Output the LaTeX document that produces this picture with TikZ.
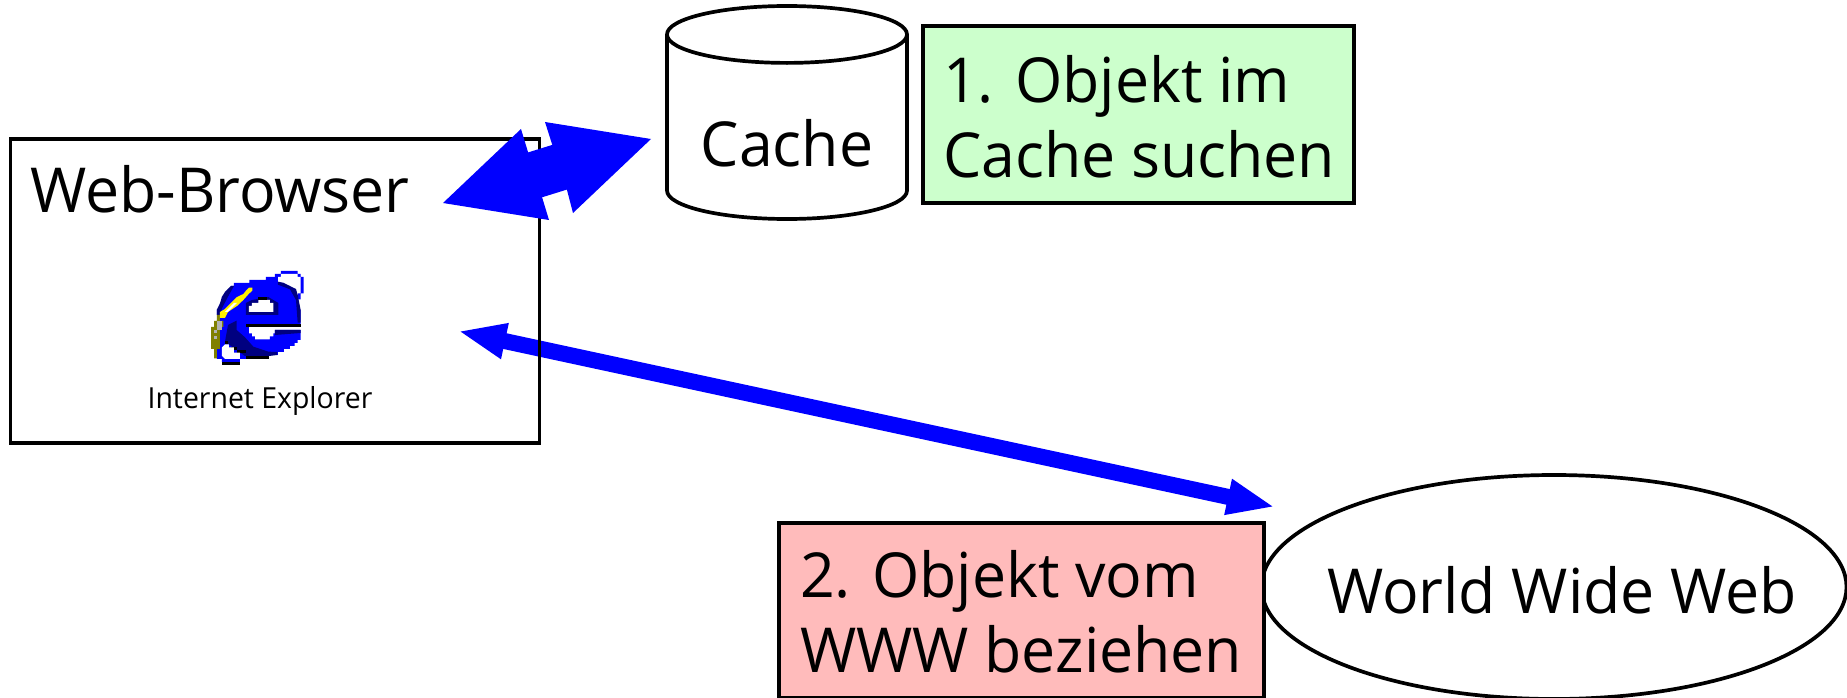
\documentclass[tikz,border=0pt]{standalone}
\usepackage{fontspec}
\setmainfont[FakeStretch=0.98]{Open Sans}
\usetikzlibrary{arrows.meta}
\usetikzlibrary{shapes.geometric}
\definecolor{notegreen}{HTML}{CCFFCC}
\definecolor{notered}{HTML}{FFBBBB}
\definecolor{ienavy}{HTML}{000080}
\definecolor{ieolive}{HTML}{808000}
\tikzset{
  outline/.style={draw=black,line width=3.7pt,inner sep=0pt,outer sep=0pt},
  caption/.style={font=\bigtext,align=left,inner sep=0pt},
  thinlink/.style={draw=blue,line width=16pt,
    {Triangle[length=48pt,width=33pt]}-{Triangle[length=48pt,width=33pt]}},
  fatlink/.style={draw=blue,line width=47pt},
  fathead/.style={fill=blue}
}
\newcommand{\bigtext}{\fontsize{62}{75}\selectfont}
\newcommand{\smalltext}{\fontsize{29}{30}\selectfont}
\begin{document}
\begin{tikzpicture}[x=1pt,y=-1pt]
  \useasboundingbox (0,0) rectangle (1847,698);

  \coordinate (browserport) at (458,331);
  \coordinate (wwwport) at (1275,507);
  \draw[thinlink] (browserport) -- (wwwport);

  \node[outline,minimum width=529pt,minimum height=304pt] (browser) at (275,291) {};
  \node[caption,anchor=base west] (browserlabel) at (30,212) {Web-Browser};
  \node[anchor=base,font=\smalltext,inner sep=0pt] (ielabel) at (260,408) {Internet Explorer};

  \begin{scope}[shift={(190,250)},x=0.3333pt,y=-0.3333pt]
    \fill[blue] (255,72) -- (273,72) -- (273,63) -- (323,63) -- (323,72) -- (332,72) -- (332,81) -- (341,81) -- (341,130) -- (332,130) -- (332,148) -- (318,148) -- (318,81) -- (255,81) -- cycle;
    \fill[white] (264,81) -- (273,81) -- (273,72) -- (323,72) -- (323,81) -- (332,81) -- (332,130) -- (323,130) -- (323,135) -- (264,135) -- cycle;
    \fill[blue] (150,99) -- (178,99) -- (178,90) -- (228,90) -- (228,81) -- (264,81) -- (264,99) -- (282,99) -- (282,108) -- (300,108) -- (300,117) -- (318,117) -- (318,135) -- (323,135) -- (323,180) -- (332,180) -- (332,222) -- (168,222) -- (168,231) -- (177,231) -- (177,250) -- (186,250) -- (186,259) -- (195,259) -- (195,268) -- (240,268) -- (240,259) -- (250,259) -- (250,250) -- (255,250) -- (255,240) -- (332,240) -- (332,270) -- (323,270) -- (323,279) -- (314,279) -- (314,288) -- (300,288) -- (300,297) -- (282,297) -- (282,306) -- (264,306) -- (264,315) -- (237,315) -- (237,318) -- (168,318) -- (168,327) -- (150,327) -- (150,336) -- (96,336) -- (96,327) -- (81,327) -- (81,280) -- (90,280) -- (90,195) -- (81,195) -- (81,178) -- (90,178) -- (90,160) -- (96,160) -- (96,140) -- (105,140) -- (105,126) -- (114,126) -- (114,117) -- (123,117) -- (123,108) -- (132,108) -- (132,99) -- cycle;
    \fill[ienavy] (114,225) -- (140,212) -- (140,240) -- (165,262) -- (190,290) -- (235,305) -- (262,306) -- (262,315) -- (237,318) -- (165,318) -- (140,300) -- (105,275) -- cycle;
    \fill[ienavy] (168,159) -- (186,150) -- (235,141) -- (250,150) -- (265,159) -- (265,195) -- (168,195) -- cycle;
    \fill[ienavy] (255,240) -- (332,240) -- (332,249) -- (255,255) -- cycle;
    \fill[ienavy] (264,95) -- (282,99) -- (300,108) -- (318,117) -- (323,135) -- (332,180) -- (332,218) -- (323,218) -- (318,150) -- (300,118) -- (264,104) -- cycle;
    \fill[ienavy] (81,178) -- (90,160) -- (96,140) -- (105,126) -- (123,108) -- (132,108) -- (114,140) -- (96,175) -- (90,195) -- (81,195) -- cycle;
    \fill[white] (177,168) -- (186,168) -- (186,159) -- (205,159) -- (205,150) -- (240,150) -- (240,159) -- (250,159) -- (250,186) -- (177,186) -- cycle;
    \fill[black] (168,222) rectangle (332,231);
    \fill[black] (205,141) rectangle (230,150);
    \fill[black] (96,336) rectangle (150,345);
    \fill[black] (168,318) rectangle (237,327);
    \fill[black] (105,272) rectangle (114,281);
    \fill[black] (123,291) rectangle (141,299);
    \fill[black] (141,299) rectangle (168,308);
    \fill[white] (96,292) -- (105,283) -- (117,283) -- (117,292) -- (132,292) -- (132,308) -- (150,308) -- (150,327) -- (105,327) -- (96,318) -- cycle;
    \fill[ieolive] (81,195) -- (90,195) -- (90,213) -- (100,213) -- (100,231) -- (90,231) -- (90,297) -- (81,297) -- (81,325) -- (72,325) -- (72,297) -- (63,297) -- (63,231) -- (72,231) -- (72,213) -- (81,213) -- cycle;
    \fill[yellow] (90,186) -- (105,177) -- (114,168) -- (123,159) -- (132,150) -- (141,141) -- (160,132) -- (168,122) -- (177,113) -- (187,113) -- (187,122) -- (177,131) -- (160,150) -- (141,168) -- (114,186) -- (105,204) -- (90,204) -- cycle;
    \fill[white] (105,186) -- (132,159) -- (141,159) -- (114,186) -- cycle;
    \fill[gray!60] (81,213) rectangle (96,240);
    \fill[gray!60] (72,240) rectangle (81,249);
    \fill[gray!60] (72,258) rectangle (81,267);
  \end{scope}

  \node[outline,cylinder,shape border rotate=90,aspect=0.33,minimum width=240pt,minimum height=213pt,anchor=shape center,font=\bigtext] (cache) at (787,112.5) {\raisebox{-15pt}[\height][0pt]{Cache}};
  \node[outline,fill=notegreen,minimum width=431pt,minimum height=177pt] (searchbox) at (1138.5,114.5) {};
  \node[caption,anchor=base west] (searchtext) at (943,177) {1. Objekt im\\Cache suchen};

  \node[outline,ellipse,fill=white,minimum width=585pt,minimum height=224pt] (www) at (1554,587) {};
  \node[caption,anchor=base] (wwwlabel) at (1562,613) {World Wide Web};
  \node[outline,fill=notered,minimum width=485pt,minimum height=175pt] (fetchbox) at (1021.5,610.5) {};
  \node[caption,anchor=base west] (fetchtext) at (800,672) {2. Objekt vom\\WWW beziehen};

  \coordinate (browsernotch) at (525,178);
  \coordinate (cachenotch) at (570,164);
  \draw[fatlink] (browsernotch) -- (cachenotch);
  \fill[fathead] (443,203) -- (521,129) -- (528,152) -- (542,197) -- (549,220) -- cycle;
  \fill[fathead] (651,139) -- (545,122) -- (552,144) -- (567,190) -- (573,213) -- cycle;
\end{tikzpicture}
\end{document}
